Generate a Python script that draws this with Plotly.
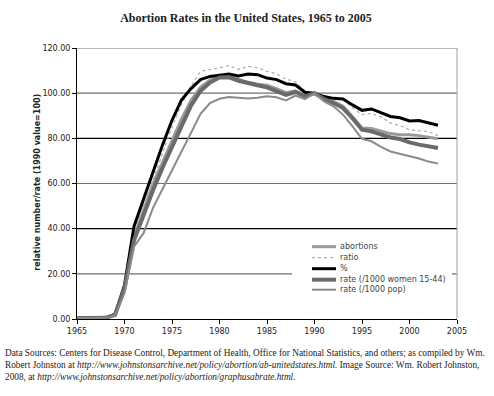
import plotly.graph_objects as go

years = list(range(1965, 2004))

abortions = [0.3, 0.3, 0.4, 0.5, 1.8, 14, 36.3, 48.1, 60, 69.4, 79, 88.6, 96.7, 102.6, 105.8,
             107.5, 107.5, 106, 104.8, 104, 103.5, 102, 100.2, 101, 99, 100, 97.8, 96.4, 94.2,
             89.6, 84.6, 84.4, 83.1, 82.1, 81.6, 81.6, 81.2, 80.4, 79.8]
ratio = [0.3, 0.3, 0.4, 0.5, 1.8, 14, 38, 50, 62, 74, 85, 95, 103, 109.7, 110.4,
         111.2, 112.2, 110.5, 111.9, 111.2, 109.7, 108.6, 106.2, 105, 100.8, 100, 98.6, 97.7, 97.1,
         93.4, 90.5, 91, 89.5, 86.8, 85.6, 83.8, 83.5, 83, 81.2]
percent = [0.3, 0.3, 0.4, 0.5, 2.0, 15, 41, 53, 66, 77, 88, 97, 102, 106, 107.4,
           107.9, 108.5, 107.6, 108.5, 108.2, 106.7, 106, 104.2, 103.6, 100.4, 100, 98.5, 97.7, 97.4,
           94.8, 92.4, 93, 91.2, 89.7, 89.1, 87.7, 87.9, 86.8, 85.8]
rate_women = [0.3, 0.3, 0.4, 0.5, 1.8, 13.5, 34.8, 46, 57, 67, 76, 85.7, 94.5, 101, 104.7,
              106.9, 107, 105.5, 104.3, 103.5, 102.6, 100.8, 99.2, 100.5, 98.6, 100, 97.4, 95.6, 93.4,
              88.9, 83.8, 83.1, 81.6, 80.4, 79.7, 78.2, 77.2, 76.4, 75.7]
rate_pop = [0.3, 0.3, 0.4, 0.5, 1.5, 11.5, 32, 38, 49.2, 57.3, 65.4, 74.2, 82.4, 90.9, 95.6,
            97.5, 98.3, 97.8, 97.6, 98, 98.6, 98.2, 96.8, 98.9, 97.4, 100, 96.4, 94.2, 90.5,
            85.3, 79.8, 78.7, 76.2, 74.2, 73.2, 72.3, 71.1, 69.7, 68.8]

names = ["abortions", "ratio", "%", "rate (/1000 women 15-44)", "rate (/1000 pop)"]
series = [abortions, ratio, percent, rate_women, rate_pop]
styles = [dict(color="#9a9a9a", width=3),
          dict(color="#b0b0b0", width=1.3, dash="dot"),
          dict(color="#000000", width=3),
          dict(color="#6a6a6a", width=4),
          dict(color="#8a8a8a", width=2)]

x_ticks = [1965, 1970, 1975, 1980, 1985, 1990, 1995, 2000, 2005]
y_ticks = [0, 20, 40, 60, 80, 100, 120]

fig = go.Figure()
for n, s, st in zip(names, series, styles):
    fig.add_trace(go.Scatter(x=years, y=s, mode="lines", name=n, line=st, showlegend=False,
                             hoverinfo="skip"))

W, H = 494, 396
# plot area in page pixels
L, R, T, B = 77, 457, 48.3, 319.3
def px(x):
    return (x - L) / (R - L)
def py(y):
    return (B - y) / (B - T)

shapes = []
for v in y_ticks[1:]:
    col = "#000000" if v in (40, 80) else "#707070"
    shapes.append(dict(type="line", xref="paper", yref="y", x0=0, x1=1, y0=v, y1=v,
                       line=dict(color=col, width=1.2), layer="below"))
shapes.append(dict(type="line", xref="paper", yref="paper", x0=1, x1=1, y0=0, y1=1,
                   line=dict(color="#a0a0a0", width=1), layer="below"))
# legend box (white, hides the gridline behind it)
shapes.append(dict(type="rect", xref="paper", yref="paper", x0=px(292), x1=px(452),
                   y0=py(300), y1=py(238), fillcolor="white", line=dict(width=0), layer="above"))
annotations = []
leg_y = [247, 258, 269, 280, 290]
for n, st, yy in zip(names, styles, leg_y):
    shapes.append(dict(type="line", xref="paper", yref="paper", x0=px(312), x1=px(336),
                       y0=py(yy), y1=py(yy), line=st, layer="above"))
    annotations.append(dict(text=n, xref="paper", yref="paper", x=px(338), y=py(yy),
                            xanchor="left", yanchor="middle", showarrow=False,
                            font=dict(family="DejaVu Sans", size=8, color="#444444")))

# y-axis title
annotations.append(dict(text="<b>relative number/rate (1990 value=100)</b>", xref="paper", yref="paper",
                        x=px(38), y=py(183), xanchor="center", yanchor="middle", textangle=-90,
                        showarrow=False, font=dict(family="DejaVu Sans", size=8, color="#222222")))

footer = [
    "Data Sources: Centers for Disease Control, Department of Health, Office for National Statistics, and others; as compiled by Wm.",
    "Robert Johnston at <i>http://www.johnstonsarchive.net/policy/abortion/ab-unitedstates.html.</i> Image Source: Wm. Robert Johnston,",
    "2008, at <i>http://www.johnstonsarchive.net/policy/abortion/graphusabrate.html.</i>",
]
for i, line in enumerate(footer):
    annotations.append(dict(text=line, xref="paper", yref="paper", x=px(3), y=py(353 + 12 * i),
                            xanchor="left", yanchor="middle", showarrow=False,
                            font=dict(family="Liberation Serif", size=9.3, color="#222222")))

fig.update_layout(
    width=W, height=H,
    margin=dict(l=L, r=W - R, t=T, b=H - B, autoexpand=False),
    paper_bgcolor="white", plot_bgcolor="white",
    hovermode=False,
    title=dict(text="<b>Abortion Rates in the United States, 1965 to 2005</b>",
               x=246 / W, xanchor="center",
               y=1 - 18 / H, yanchor="middle",
               font=dict(family="Liberation Serif", size=12, color="#222222")),
    xaxis=dict(range=[1965, 2005], tickvals=x_ticks, ticktext=[str(v) for v in x_ticks],
               showgrid=False, zeroline=False, showline=True, linecolor="black", linewidth=1,
               ticks="outside", ticklen=4, tickcolor="black", automargin=False,
               tickfont=dict(family="DejaVu Sans", size=8, color="#222222")),
    yaxis=dict(range=[0, 120], tickvals=y_ticks, ticktext=["%.2f" % v for v in y_ticks],
               showgrid=False, zeroline=False, showline=True, linecolor="black", linewidth=1,
               ticks="outside", ticklen=4, tickcolor="black", automargin=False,
               tickfont=dict(family="DejaVu Sans", size=8, color="#222222")),
    shapes=shapes, annotations=annotations,
)

fig.write_html("out.html", config={"displayModeBar": False},
               post_script="document.body.style.margin='0';")
